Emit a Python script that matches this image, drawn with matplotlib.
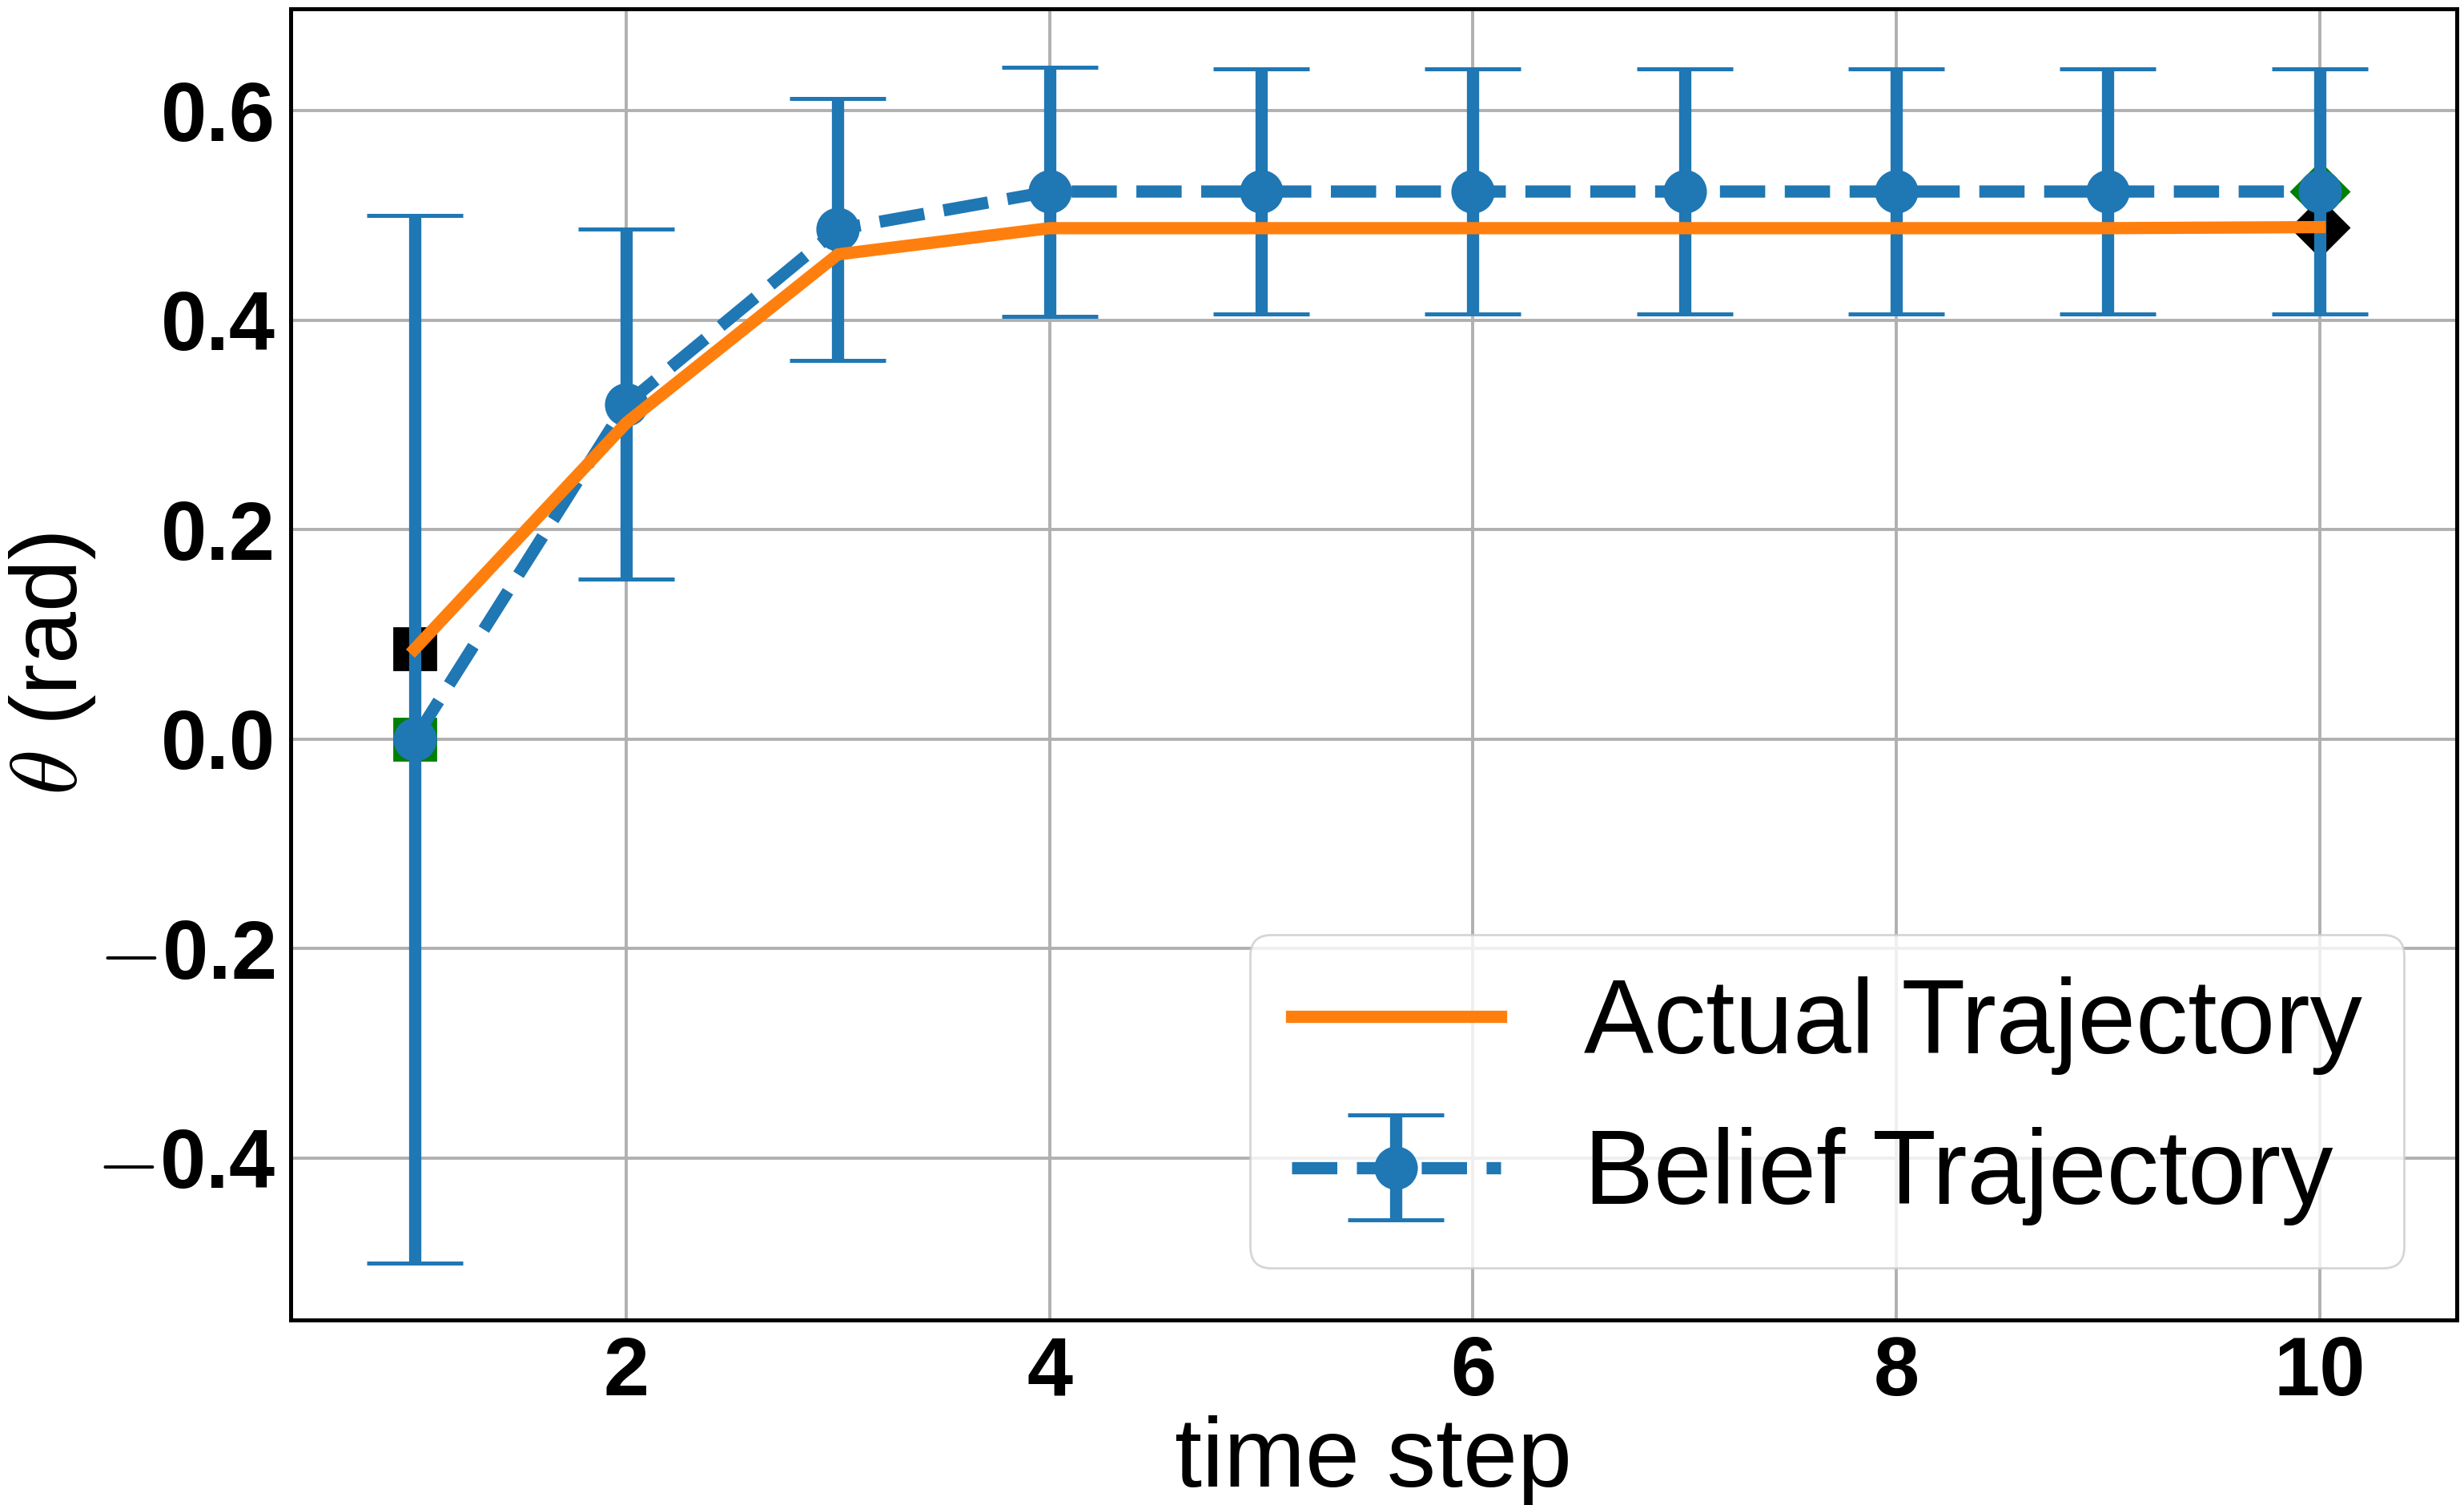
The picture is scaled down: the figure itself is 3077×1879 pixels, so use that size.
import matplotlib
matplotlib.use("Agg")
import matplotlib.pyplot as plt
from matplotlib.ticker import FuncFormatter

# ---- data ----
time_steps = [1, 2, 3, 4, 5, 6, 7, 8, 9, 10]
actual_traj = [0.086, 0.302, 0.463, 0.488, 0.488, 0.488, 0.488, 0.488, 0.488, 0.489]
belief_traj = [0.0, 0.320, 0.487, 0.523, 0.523, 0.523, 0.523, 0.523, 0.523, 0.523]
belief_err = [0.5, 0.167, 0.125, 0.119, 0.117, 0.117, 0.117, 0.117, 0.117, 0.117]
x_ticks = [2, 4, 6, 8, 10]
y_ticks = [-0.4, -0.2, 0.0, 0.2, 0.4, 0.6]

C_BLUE = "#1f77b4"
C_ORANGE = "#ff7f0e"

plt.rcParams["font.family"] = ["Liberation Sans", "DejaVu Sans"]
plt.rcParams["mathtext.fontset"] = "cm"

DPI = 200
fig = plt.figure(figsize=(3077 / DPI, 1879 / DPI), dpi=DPI)
ax = fig.add_axes([0.118, 0.123, 0.879, 0.8713])

ax.grid(True, color="#b0b0b0", linewidth=1.4, zorder=0)
ax.set_axisbelow(True)

ms = 18.5
# start / end markers
ax.plot([time_steps[0]], [belief_traj[0]], linestyle="none", marker="s", ms=ms,
        color="green", zorder=1.8)
ax.plot([time_steps[0]], [actual_traj[0]], linestyle="none", marker="s", ms=ms,
        color="black", zorder=1.8)
ax.plot([time_steps[-1]], [belief_traj[-1]], linestyle="none", marker="D", ms=ms * 0.98,
        color="green", zorder=1.8)
ax.plot([time_steps[-1]], [actual_traj[-1]], linestyle="none", marker="D", ms=ms * 0.98,
        color="black", zorder=1.8)

eb = ax.errorbar(time_steps, belief_traj, yerr=belief_err, color=C_BLUE, linestyle="--",
                 linewidth=5.5, elinewidth=5.5, marker="o", ms=ms, capsize=21.5,
                 capthick=1.8, label="Belief Trajectory", zorder=2)
ln, = ax.plot(time_steps, actual_traj, color=C_ORANGE, linewidth=5.5,
              label="Actual Trajectory", zorder=2.1)

ax.set_xlim(0.415, 10.647)
ax.set_ylim(-0.5545, 0.6977)
ax.set_xticks(x_ticks)
ax.set_yticks(y_ticks)


def yfmt(v, pos):
    s = f"{abs(v):.1f}"
    return (r"$-$" + s) if v < -1e-9 else s


ax.yaxis.set_major_formatter(FuncFormatter(yfmt))
ax.tick_params(axis="both", length=0, pad=7, labelsize=37)
for lab in ax.get_xticklabels() + ax.get_yticklabels():
    lab.set_fontweight("bold")

for sp in ax.spines.values():
    sp.set_linewidth(1.8)
    sp.set_color("black")

ax.set_xlabel("time step", fontsize=44, labelpad=1)
ax.set_ylabel(r"$\theta$ (rad)", fontsize=42, labelpad=-1)

ax.legend(handles=[ln, eb], labels=["Actual Trajectory", "Belief Trajectory"],
          loc="lower right", fontsize=47)

fig.savefig("out.png", dpi=DPI)
